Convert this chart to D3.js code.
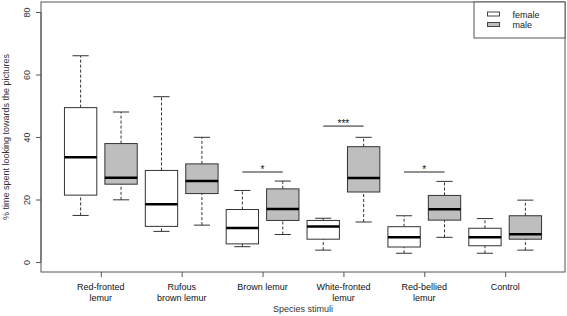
<!DOCTYPE html>
<html>
<head>
<meta charset="utf-8">
<script src="https://cdn.jsdelivr.net/npm/d3@7"></script>
<style>
  body { margin: 0; background: #fff; }
  svg { font-family: "Liberation Sans", Arial, sans-serif; }
</style>
</head>
<body>
<svg id="chart"></svg>
<script>
// species stimuli (two-line labels)
const species = [
  ["Red-fronted", "lemur"],
  ["Rufous", "brown lemur"],
  ["Brown lemur"],
  ["White-fronted", "lemur"],
  ["Red-bellied", "lemur"],
  ["Control"]
];
const sexes = ["female", "male"];

// [lower whisker, Q1, median, Q3, upper whisker]
const femaleStats = [
  [14.9, 21.4, 33.5, 49.4, 66.0],
  [9.8, 11.4, 18.5, 29.3, 52.9],
  [4.9, 5.8, 10.9, 16.8, 22.9],
  [3.8, 7.3, 11.4, 13.3, 14.0],
  [2.8, 4.8, 7.9, 11.3, 14.8],
  [2.8, 5.2, 7.9, 10.8, 13.9]
];
const maleStats = [
  [19.9, 24.9, 27.0, 37.9, 48.0],
  [11.8, 21.9, 25.9, 31.4, 39.9],
  [8.8, 13.3, 17.0, 23.4, 25.9],
  [12.8, 22.4, 26.9, 36.9, 39.9],
  [7.9, 13.4, 16.9, 21.3, 25.8],
  [3.8, 7.3, 8.9, 14.8, 19.8]
];

// significance brackets: species index, bar height, stars
const sigSpecies = [2, 3, 4];
const sigLevel = [28.8, 43.5, 28.8];
const sigStars = ["*", "***", "*"];

const yTicks = [0, 20, 40, 60, 80];

const width = 567, height = 316;
const margin = { left: 41, right: 2, top: 2, bottom: 44 };

const svg = d3.select("#chart")
  .attr("width", width)
  .attr("height", height);

// box positions 1..12, R-style xlim (0.5..12.5 extended by 4%)
const nBox = species.length * 2;
const x = d3.scaleLinear()
  .domain([0.5 - 0.04 * nBox, nBox + 0.5 + 0.04 * nBox])
  .range([margin.left, width - margin.right]);

const y = d3.scaleLinear()
  .domain([-3.2, 83.2])
  .range([height - margin.bottom, margin.top]);

const boxW = (x(2) - x(1)) * 0.8;
const fills = { female: "#ffffff", male: "#bebebe" };
const stroke = "#333";

const boxes = [];
species.forEach((s, i) => {
  boxes.push({ pos: 2 * i + 1, sex: "female", st: femaleStats[i] });
  boxes.push({ pos: 2 * i + 2, sex: "male", st: maleStats[i] });
});

const g = svg.append("g");

const bx = g.selectAll(".box")
  .data(boxes)
  .enter()
  .append("g")
  .attr("class", "box");

// whiskers (dashed)
bx.append("line")
  .attr("x1", d => x(d.pos)).attr("x2", d => x(d.pos))
  .attr("y1", d => y(d.st[0])).attr("y2", d => y(d.st[1]))
  .attr("stroke", stroke).attr("stroke-dasharray", "3,2");
bx.append("line")
  .attr("x1", d => x(d.pos)).attr("x2", d => x(d.pos))
  .attr("y1", d => y(d.st[3])).attr("y2", d => y(d.st[4]))
  .attr("stroke", stroke).attr("stroke-dasharray", "3,2");

// staples
[0, 4].forEach(k => {
  bx.append("line")
    .attr("x1", d => x(d.pos) - boxW / 4).attr("x2", d => x(d.pos) + boxW / 4)
    .attr("y1", d => y(d.st[k])).attr("y2", d => y(d.st[k]))
    .attr("stroke", stroke);
});

bx.append("rect")
  .attr("x", d => x(d.pos) - boxW / 2)
  .attr("width", boxW)
  .attr("y", d => y(d.st[3]))
  .attr("height", d => y(d.st[1]) - y(d.st[3]))
  .attr("fill", d => fills[d.sex])
  .attr("stroke", stroke);

bx.append("line")
  .attr("x1", d => x(d.pos) - boxW / 2).attr("x2", d => x(d.pos) + boxW / 2)
  .attr("y1", d => y(d.st[2])).attr("y2", d => y(d.st[2]))
  .attr("stroke", "#000").attr("stroke-width", 2.5);

// significance bars
sigSpecies.forEach((s, i) => {
  const x1 = x(2 * s + 1), x2 = x(2 * s + 2);
  g.append("line")
    .attr("x1", x1).attr("x2", x2)
    .attr("y1", y(sigLevel[i])).attr("y2", y(sigLevel[i]))
    .attr("stroke", "#222");
  g.append("text")
    .attr("x", (x1 + x2) / 2)
    .attr("y", y(sigLevel[i]) + 1)
    .attr("text-anchor", "middle")
    .attr("font-size", 10)
    .attr("fill", "#111")
    .text(sigStars[i]);
});

// frame
svg.append("rect")
  .attr("x", margin.left).attr("y", margin.top)
  .attr("width", width - margin.left - margin.right)
  .attr("height", height - margin.top - margin.bottom)
  .attr("fill", "none").attr("stroke", "#555");

// y axis
const yAxis = svg.append("g")
  .attr("transform", `translate(${margin.left},0)`)
  .call(d3.axisLeft(y).tickValues(yTicks).tickSize(5).tickSizeOuter(0).tickFormat(d3.format("d")));
yAxis.select(".domain").attr("stroke", "#555")
  .attr("d", `M0,${y(0)}V${y(80)}`);
yAxis.selectAll(".tick line").attr("stroke", "#555");
yAxis.selectAll(".tick text")
  .attr("font-size", 9).attr("fill", "#333")
  .attr("x", 0).attr("dy", null)
  .attr("text-anchor", "middle")
  .attr("transform", "translate(-14,0) rotate(-90)")
  .attr("dominant-baseline", "central");

// x axis
const groupPos = species.map((s, i) => 2 * i + 1.5);
const xAxis = svg.append("g")
  .attr("transform", `translate(0,${height - margin.bottom})`)
  .call(d3.axisBottom(x).tickValues(groupPos).tickSize(5).tickFormat(""));
xAxis.select(".domain").remove();
xAxis.selectAll(".tick line").attr("stroke", "#555");

svg.append("g").selectAll("text")
  .data(species)
  .enter()
  .append("text")
  .attr("x", (d, i) => x(groupPos[i]))
  .attr("y", 290)
  .attr("text-anchor", "middle")
  .attr("font-size", 9)
  .attr("fill", "#111")
  .each(function (d) {
    d3.select(this).selectAll("tspan")
      .data(d)
      .enter()
      .append("tspan")
      .attr("x", function () { return this.parentNode.getAttribute("x"); })
      .attr("dy", (t, k) => k === 0 ? 0 : 10.6)
      .text(t => t);
  });

svg.append("text")
  .attr("x", (margin.left + width - margin.right) / 2)
  .attr("y", 312)
  .attr("text-anchor", "middle")
  .attr("font-size", 9)
  .attr("fill", "#333")
  .text("Species stimuli");

svg.append("text")
  .attr("transform", `translate(8.5,${(y(-3.2) + y(83.2)) / 2}) rotate(-90)`)
  .attr("text-anchor", "middle")
  .attr("font-size", 9)
  .attr("fill", "#333")
  .text("% time spent looking towards the pictures");

// legend
const leg = svg.append("g");
leg.append("rect")
  .attr("x", 474).attr("y", margin.top)
  .attr("width", width - margin.right - 474).attr("height", 36)
  .attr("fill", "#fff").attr("stroke", "#555");
leg.selectAll(".key")
  .data(sexes)
  .enter()
  .append("rect")
  .attr("x", 487.5).attr("y", (d, i) => 12 + i * 10.5)
  .attr("width", 12).attr("height", 4)
  .attr("fill", d => fills[d]).attr("stroke", "#444");
leg.selectAll(".lab")
  .data(sexes)
  .enter()
  .append("text")
  .attr("x", 512.5).attr("y", (d, i) => 17.5 + i * 10.5)
  .attr("font-size", 9)
  .attr("fill", "#222")
  .text(d => d);
</script>
</body>
</html>
